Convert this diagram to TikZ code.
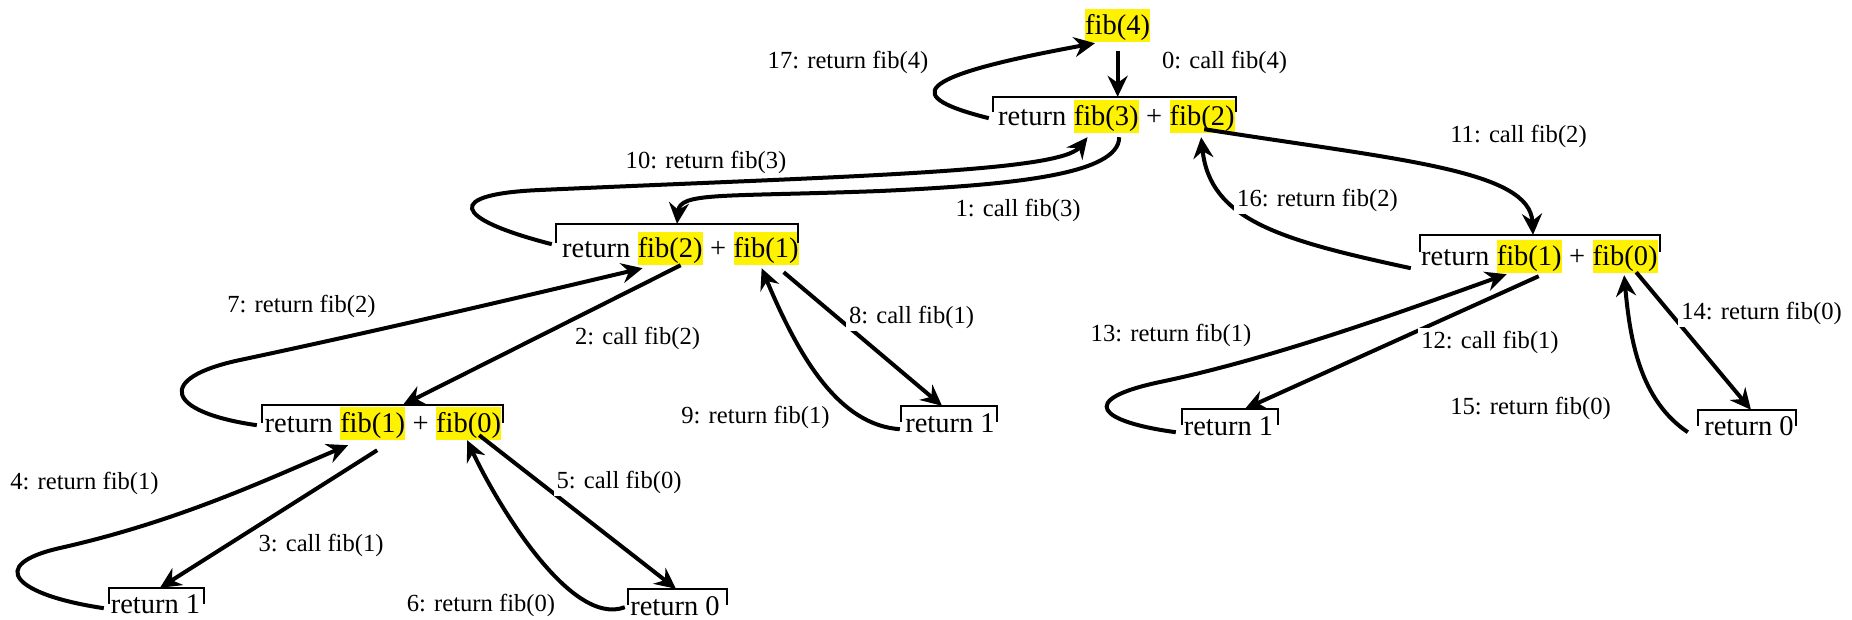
\documentclass[tikz,border=0pt]{standalone}
\usepackage{fontspec}
\setmainfont{Liberation Serif}
\usetikzlibrary{arrows.meta}
\begin{document}
\begin{tikzpicture}[x=1pt,y=-1pt,
  main/.style={font=\fontsize{28.5}{34}\selectfont, inner sep=0pt},
  hl/.style={main, fill=yellow, text height=25pt, text depth=8pt},
  lab/.style={font=\fontsize{24.6}{29}\selectfont, fill=white, inner sep=3pt},
  frame/.style={inner sep=0pt, minimum height=#1},
  frame/.default=17pt,
  brk/.style={line width=2pt},
  arr/.style={line width=4pt, -{Stealth[length=21pt,width=20pt,inset=7pt]}}
]
\useasboundingbox (0,0) rectangle (1852,619);

% ---------- fib(4)
\node[hl, anchor=base west] (f4) at (1085,34) {fib(4)};

% ---------- box A
\node[frame=15pt, minimum width=243pt] (boxA) at (1114.5,104.5) {};
\node[main, anchor=base west] (aRet) at (998,125) {return};
\node[hl, anchor=base west] (a3) at ([xshift=7.1pt]aRet.base east) {fib(3)};
\node[main, anchor=base west] (aPlus) at ([xshift=7.1pt]a3.base east) {+};
\node[hl, anchor=base west] (a2) at ([xshift=7.1pt]aPlus.base east) {fib(2)};

% ---------- box B
\node[frame=19pt, minimum width=242pt] (boxB) at (677,233.5) {};
\node[main, anchor=base west] (bRet) at (562,257) {return};
\node[hl, anchor=base west] (b2) at ([xshift=7.1pt]bRet.base east) {fib(2)};
\node[main, anchor=base west] (bPlus) at ([xshift=7.1pt]b2.base east) {+};
\node[hl, anchor=base west] (b1) at ([xshift=7.1pt]bPlus.base east) {fib(1)};

% ---------- box C
\node[frame=18pt, minimum width=241pt] (boxC) at (382.5,414) {};
\node[main, anchor=base west] (cRet) at (264.5,432) {return};
\node[hl, anchor=base west] (c1) at ([xshift=7.1pt]cRet.base east) {fib(1)};
\node[main, anchor=base west] (cPlus) at ([xshift=7.1pt]c1.base east) {+};
\node[hl, anchor=base west] (c0) at ([xshift=7.1pt]cPlus.base east) {fib(0)};

% ---------- box G
\node[frame=17pt, minimum width=240pt] (boxG) at (1540,243.5) {};
\node[main, anchor=base west] (gRet) at (1421,265) {return};
\node[hl, anchor=base west] (g1) at ([xshift=7.1pt]gRet.base east) {fib(1)};
\node[main, anchor=base west] (gPlus) at ([xshift=7.1pt]g1.base east) {+};
\node[hl, anchor=base west] (g0) at ([xshift=7.1pt]gPlus.base east) {fib(0)};

% ---------- small boxes
\node[frame=16pt, minimum width=95pt] (boxD) at (156.5,596) {};
\node[main, anchor=base] (dT) at (155.5,613) {return 1};
\node[frame=16pt, minimum width=99pt] (boxE) at (677.5,597) {};
\node[main, anchor=base] (eT) at (675,615) {return 0};
\node[frame=16pt, minimum width=96pt] (boxF) at (949,414) {};
\node[main, anchor=base] (fT) at (950,432) {return 1};
\node[frame=16pt, minimum width=96pt] (boxH) at (1230,417) {};
\node[main, anchor=base] (hT) at (1228.5,435) {return 1};
\node[frame=16pt, minimum width=98pt] (boxI) at (1747,418) {};
\node[main, anchor=base] (iT) at (1749,435) {return 0};

% ---------- brackets
\foreach \b in {boxA,boxB,boxC,boxG,boxD,boxE,boxF,boxH,boxI}
  \draw[brk] (\b.south west) -- (\b.north west) -- (\b.north east) -- (\b.south east);

% ---------- arrows
% 0
\draw[arr] ([yshift=-9pt]f4.south) -- (f4.south |- boxA.north);
% 17
\draw[arr] ([shift={(-4,6)}]boxA.south west) .. controls (905,97) and (905,78) .. ([shift={(10,1)}]f4.south west);
% 1
\draw[arr] ([shift={(13,4)}]a3.south) .. controls (1119,175) and (1010,185) .. (880,191)
   .. controls (720,197) and (680,192) .. (boxB.north);
% 10
\draw[arr] ([shift={(-4,1)}]boxB.south west) .. controls (450,218) and (445,194) .. (540,190)
   .. controls (850,176) and (1060,172) .. ([shift={(14,4)}]a3.south west);
% 11
\draw[arr] ([shift={(2,-4)}]a2.south) .. controls (1400,160) and (1530,170) .. ([shift={(-7,0)}]boxG.north);
% 16
\draw[arr] ([shift={(-9,16)}]boxG.south west) .. controls (1280,240) and (1210,220) .. ([shift={(-1,4)}]a2.south);
% 2
\draw[arr] ([shift={(10.5,0)}]b2.south) -- ([shift={(20.5,0)}]boxC.north);
% 7
\draw[arr] ([shift={(-5,2)}]boxC.south west) .. controls (165,412) and (155,378) .. (240,360)
   .. controls (400,326) and (550,290) .. ([shift={(5,3)}]b2.south west);
% 8
\draw[arr] ([shift={(17.5,7)}]b1.south) -- ([shift={(-7,0)}]boxF.north);
% 9
\draw[arr] ([shift={(-1,7)}]boxF.south west) .. controls (840,425) and (800,360) .. ([shift={(-4.5,3)}]b1.south);
% 3
\draw[arr] ([shift={(4.5,10)}]c1.south) -- ([shift={(3.5,0)}]boxD.north);
% 4
\draw[arr] ([shift={(-5,4)}]boxD.south west) .. controls (15,595) and (-15,565) .. (60,548)
   .. controls (180,521) and (270,478) .. ([shift={(8,5)}]c1.south west);
% 5
\draw[arr] ([shift={(10.5,-5)}]c0.south) -- ([shift={(-1.5,0)}]boxE.north);
% 6
\draw[arr] ([shift={(-3,2)}]boxE.south west) .. controls (570,628) and (495,500) .. ([shift={(-1.5,0)}]c0.south);
% 12
\draw[arr] ([shift={(9.5,3)}]g1.south) -- ([shift={(15,0)}]boxH.north);
% 13
\draw[arr] ([shift={(-6,7)}]boxH.south west) .. controls (1100,422) and (1075,400) .. (1160,382)
   .. controls (1280,357) and (1420,305) .. ([shift={(10,1)}]g1.south west);
% 14
\draw[arr] ([shift={(11,-1)}]g0.south) -- ([shift={(4,0)}]boxI.north);
% 15
\draw[arr] ([shift={(-10,6)}]boxI.south west) .. controls (1640,400) and (1630,340) .. ([shift={(-1,2)}]g0.south);

% ---------- labels
\node[lab] (l0)  at (1224.5,62) {0: call fib(4)};
\node[lab] (l17) at (848,62)    {17: return fib(4)};
\node[lab] (l10) at (706,162)   {10: return fib(3)};
\node[lab] (l1)  at (1018,210)  {1: call fib(3)};
\node[lab] (l11) at (1518.5,136) {11: call fib(2)};
\node[lab] (l16) at (1317.5,200) {16: return fib(2)};
\node[lab] (l7)  at (301.5,306) {7: return fib(2)};
\node[lab] (l2)  at (637.5,338) {2: call fib(2)};
\node[lab] (l8)  at (911.5,317) {8: call fib(1)};
\node[lab] (l9)  at (755.5,417) {9: return fib(1)};
\node[lab] (l4)  at (84.5,483)  {4: return fib(1)};
\node[lab] (l3)  at (321,545)   {3: call fib(1)};
\node[lab] (l5)  at (619,482)   {5: call fib(0)};
\node[lab] (l6)  at (481,605)   {6: return fib(0)};
\node[lab] (l13) at (1171,335)  {13: return fib(1)};
\node[lab] (l12) at (1490,342)  {12: call fib(1)};
\node[lab] (l14) at (1761.5,313) {14: return fib(0)};
\node[lab] (l15) at (1530.5,408) {15: return fib(0)};
\end{tikzpicture}
\end{document}
